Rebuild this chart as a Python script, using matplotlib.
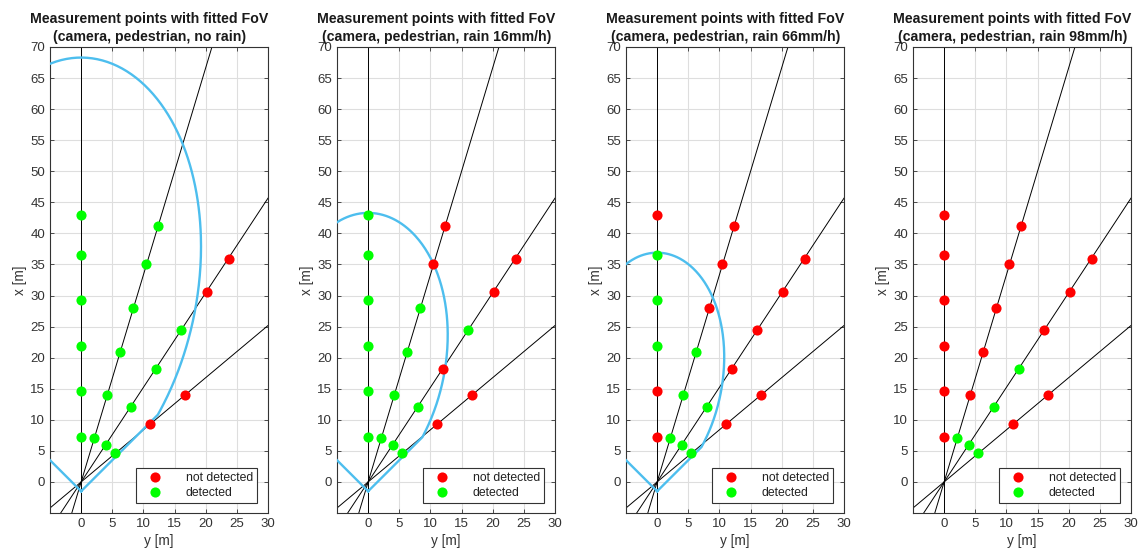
import numpy as np
import matplotlib
matplotlib.use("Agg")
import matplotlib.pyplot as plt

plt.rcParams['font.family'] = ['Liberation Sans', 'DejaVu Sans']

# ---- data ----
titles = [
    "Measurement points with fitted FoV\n(camera, pedestrian, no rain)",
    "Measurement points with fitted FoV\n(camera, pedestrian, rain 16mm/h)",
    "Measurement points with fitted FoV\n(camera, pedestrian, rain 66mm/h)",
    "Measurement points with fitted FoV\n(camera, pedestrian, rain 98mm/h)",
]
ray_angles_deg = [0.0, 16.7, 33.3, 50.0]

# measurement points: lateral y [m], longitudinal x [m]
pts_y = [0, 0, 0, 0, 0, 0,
         2.1, 4.2, 6.2, 8.3, 10.4, 12.3,
         4.0, 8.0, 12.0, 16.1, 20.2, 23.7,
         5.5, 11.1, 16.7]
pts_x = [7.3, 14.6, 21.9, 29.3, 36.6, 43.0,
         7.0, 14.0, 20.9, 28.0, 35.0, 41.2,
         6.0, 12.1, 18.2, 24.4, 30.5, 35.9,
         4.6, 9.3, 14.0]

# detection status per panel (1 = detected, 0 = not detected)
det_no_rain = [1, 1, 1, 1, 1, 1,  1, 1, 1, 1, 1, 1,  1, 1, 1, 1, 0, 0,  1, 0, 0]
det_rain16 = [1, 1, 1, 1, 1, 1,  1, 1, 1, 1, 0, 0,  1, 1, 0, 1, 0, 0,  1, 0, 0]
det_rain66 = [0, 0, 1, 1, 1, 0,  1, 1, 1, 0, 0, 0,  1, 1, 0, 0, 0, 0,  1, 0, 0]
det_rain98 = [0, 0, 0, 0, 0, 0,  1, 0, 0, 0, 0, 0,  1, 1, 1, 0, 0, 0,  1, 0, 0]
detections = [det_no_rain, det_rain16, det_rain66, det_rain98]

# fitted FoV model: apex, half opening angle, max range, gaussian width
fov_apex_y = 0.0
fov_apex_x = -1.5
fov_half_angle_deg = 45.0
fov_range = [69.8, 44.8, 38.4, None]
fov_sigma_deg = [27.0, 28.0, 27.5, None]

# ---- figure ----
W, H = 1143, 558
fig = plt.figure(figsize=(W / 100, H / 100), dpi=100)
lefts_px = [50, 337, 626, 913]
ax_w_px, top_px, bot_px = 218, 47, 513

txt_col = '#333333'
blue = (0.301, 0.745, 0.933)

for i in range(4):
    ax = fig.add_axes([lefts_px[i] / W, (H - bot_px) / H,
                       ax_w_px / W, (bot_px - top_px) / H])
    ax.set_xlim(-5, 30)
    ax.set_ylim(-5, 70)
    ax.set_xticks(np.arange(0, 31, 5))
    ax.set_yticks(np.arange(0, 71, 5))
    ax.grid(True, color='#dedede', lw=0.8)
    ax.set_axisbelow(True)
    ax.tick_params(direction='in', top=True, right=True, length=3,
                   labelsize=9.5, colors=txt_col, width=0.6)
    for s in ax.spines.values():
        s.set_color('#333333')
        s.set_linewidth(0.8)

    # rays
    for a in ray_angles_deg:
        t = np.deg2rad(a)
        ax.axline((0, 0), (np.sin(t), np.cos(t)), color='black', lw=0.7, zorder=2)

    # FoV
    if fov_range[i] is not None:
        th = np.deg2rad(np.linspace(-fov_half_angle_deg, fov_half_angle_deg, 400))
        sig = np.deg2rad(fov_sigma_deg[i])
        r = fov_range[i] * np.exp(-th ** 2 / (2 * sig ** 2))
        cy = np.concatenate([[fov_apex_y], fov_apex_y + r * np.sin(th), [fov_apex_y]])
        cx = np.concatenate([[fov_apex_x], fov_apex_x + r * np.cos(th), [fov_apex_x]])
        ax.plot(cy, cx, color=blue, lw=1.7, zorder=3)

    d = np.array(detections[i])
    py = np.array(pts_y)
    px = np.array(pts_x)
    ax.plot(py[d == 0], px[d == 0], 'o', ls='none', color=(1, 0, 0), ms=7.3,
            mec='none', label='not detected', zorder=4)
    ax.plot(py[d == 1], px[d == 1], 'o', ls='none', color=(0, 1, 0), ms=7.3,
            mec='none', label='detected', zorder=4)

    leg = ax.legend(loc='lower right', fontsize=8.8, frameon=True, fancybox=False,
                    edgecolor='#333333', framealpha=1, borderpad=0.35,
                    labelspacing=0.25, handletextpad=1.3, handlelength=2.4,
                    borderaxespad=0, bbox_to_anchor=(0.95, 0.021))
    leg.get_frame().set_linewidth(0.8)
    for t in leg.get_texts():
        t.set_color('#222222')

    ax.set_title(titles[i], fontsize=10.2, fontweight='bold', pad=4, color='#1a1a1a',
                 linespacing=1.4, x=0.455)
    ax.set_xlabel('y [m]', fontsize=9.8, color=txt_col, labelpad=3)
    ax.set_ylabel('x [m]', fontsize=9.8, color=txt_col, labelpad=2)

fig.savefig('out.png', dpi=100)
